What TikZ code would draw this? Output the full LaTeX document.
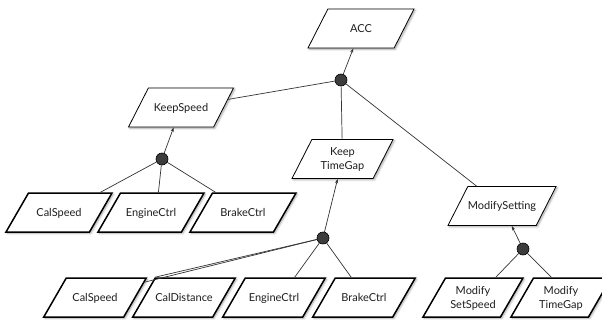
\documentclass[tikz,border=0pt]{standalone}
\usepackage{fontspec}
\setmainfont{Lato}
\usetikzlibrary{shapes.geometric,arrows.meta,calc,shadows.blur}
\definecolor{ink}{HTML}{1E1E1E}
\definecolor{wire}{HTML}{333333}
\definecolor{joinfill}{HTML}{3C3C3C}

\begin{document}
\begin{tikzpicture}[x=1pt,y=-1pt,
  feat/.style={trapezium, trapezium left angle=63, trapezium right angle=117,
    trapezium stretches body=true, minimum height=0pt, inner sep=0pt,
    text height=23.3pt, text depth=15.7pt,
    draw=black, line width=0.8pt, fill=white, text=ink, align=center,
    font=\fontsize{11}{14}\selectfont,
    blur shadow={shadow xshift=1.3pt, shadow yshift=-1.3pt,
      shadow blur steps=5, shadow opacity=35}},
  leaf/.style={feat, line width=1.5pt,
    trapezium left angle=60, trapezium right angle=120},
  % two-line labels: the box baseline is that of the last line
  twolines/.style={text height=30.3pt, text depth=8.7pt},
  joint/.style={circle, draw=black, fill=joinfill, minimum size=12pt,
    inner sep=0pt, line width=0.6pt},
  link/.style={draw=wire, line width=0.7pt},
  up/.style={link, -{Stealth[length=4.5pt,width=3.2pt]}}
]
\useasboundingbox (0,0) rectangle (602,321);

% composite features
\node[feat, minimum width=106pt] (acc) at (361,28.5) {ACC};
\node[feat, minimum width=105pt] (ks)  at (181,107.5) {KeepSpeed};
\node[feat, twolines, minimum width=101pt] (ktg) at (342.5,159) {Keep\\TimeGap};
\node[feat, minimum width=105pt] (ms) at (502,206) {ModifySetting};

% leaf features under KeepSpeed
\node[leaf, minimum width=106pt] (ksa) at (59,212.5)  {CalSpeed};
\node[leaf, minimum width=106pt] (ksb) at (151,212.5) {EngineCtrl};
\node[leaf, minimum width=106pt] (ksc) at (243,212.5) {BrakeCtrl};

% leaf features under KeepTimeGap
\node[leaf, minimum width=102.5pt] (tga) at (95,297.5)  {CalSpeed};
\node[leaf, minimum width=102.5pt] (tgb) at (184,297.5) {CalDistance};
\node[leaf, minimum width=102.5pt] (tgc) at (274,297.5) {EngineCtrl};
\node[leaf, minimum width=102.5pt] (tgd) at (364,297.5) {BrakeCtrl};

% leaf features under ModifySetting
\node[leaf, twolines, minimum width=100pt] (msa) at (473,297.5) {Modify\\SetSpeed};
\node[leaf, twolines, minimum width=100pt] (msb) at (561,297.5) {Modify\\TimeGap};

% decomposition joints
\node[joint] (j0) at (341,80) {};
\node[joint] (j1) at (162,159) {};
\node[joint] (j2) at (323,238) {};
\node[joint] (j3) at (523,249) {};

% ACC decomposition
\draw[up] (j0) -- (acc);
\draw[link] (j0) -- (ks);
\draw[link] (j0) -- (ktg);
\draw[link] (j0) -- (ms);

% KeepSpeed decomposition
\draw[up] (j1) -- (ks);
\draw[link] (j1) -- ($(ksa.top left corner)!0.85!(ksa.top right corner)$);
\draw[link] (j1) -- ($(ksb.top left corner)!0.45!(ksb.top right corner)$);
\draw[link] (j1) -- ($(ksc.top left corner)!0.04!(ksc.top right corner)$);

% KeepTimeGap decomposition
\draw[up] (j2) -- (ktg);
\draw[link] (j2) -- ($(tga.top right corner)!0.12!(tga.bottom right corner)$);
\draw[link] (j2) -- (tgb.top left corner);
\draw[link] (j2) -- ($(tgc.top left corner)!0.61!(tgc.top right corner)$);
\draw[link] (j2) -- ($(tgd.top left corner)!0.2!(tgd.top right corner)$);

% ModifySetting decomposition
\draw[up] (j3) -- (ms);
\draw[link] (j3) -- ($(msa.top left corner)!0.64!(msa.top right corner)$);
\draw[link] (j3) -- ($(msb.top left corner)!0.23!(msb.top right corner)$);
\end{tikzpicture}
\end{document}
